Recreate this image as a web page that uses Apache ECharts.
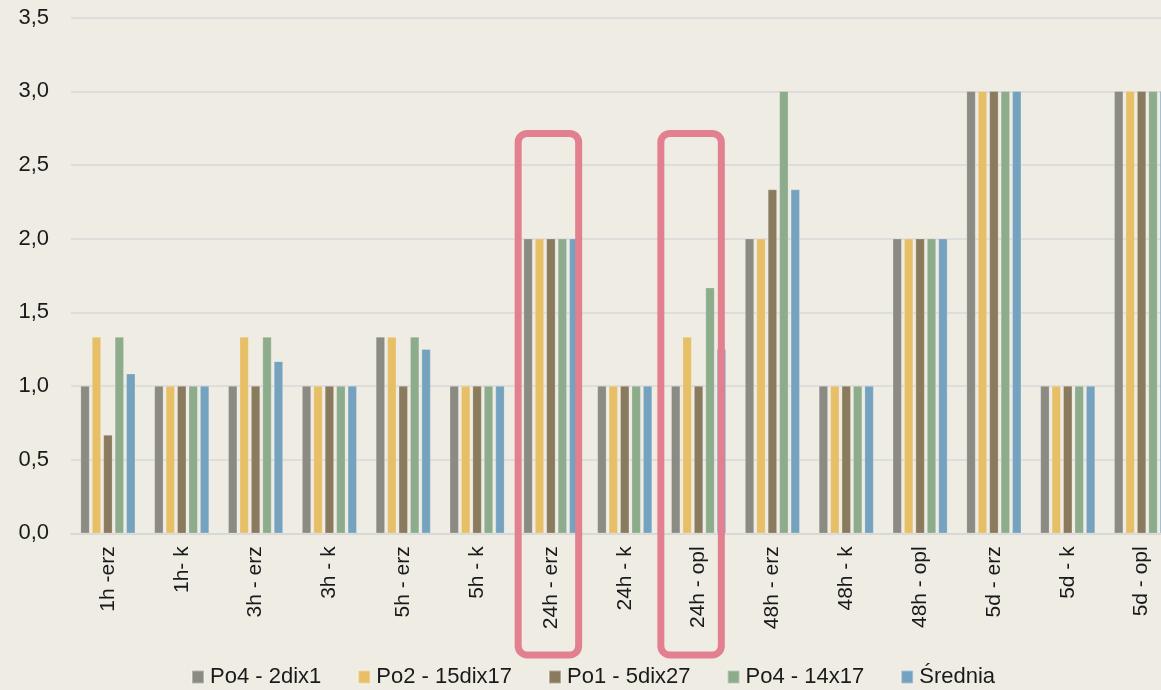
<!DOCTYPE html>
<html><head><meta charset="utf-8">
<script src="https://cdn.jsdelivr.net/npm/echarts@6/dist/echarts.min.js"></script>
<style>html,body{margin:0;padding:0;background:#efece4;overflow:hidden;width:1161px;height:690px;}#c{width:1200px;height:690px;}</style>
</head><body><div id="c"></div>
<script>
const categories = ['1h -erz','1h- k','3h - erz','3h - k','5h - erz','5h - k','24h - erz','24h - k','24h - opl','48h - erz','48h - k','48h - opl','5d - erz','5d - k','5d - opl'];
const seriesNames = ['Po4 - 2dix1','Po2 - 15dix17','Po1 - 5dix27','Po4 - 14x17','Średnia'];
const po4_2dix1  = [1, 1, 1, 1, 1.333, 1, 2, 1, 1, 2, 1, 2, 3, 1, 3];
const po2_15dix17 = [1.333, 1, 1.333, 1, 1.333, 1, 2, 1, 1.333, 2, 1, 2, 3, 1, 3];
const po1_5dix27 = [0.667, 1, 1, 1, 1, 1, 2, 1, 1, 2.333, 1, 2, 3, 1, 3];
const po4_14x17  = [1.333, 1, 1.333, 1, 1.333, 1, 2, 1, 1.667, 3, 1, 2, 3, 1, 3];
const srednia    = [1.083, 1, 1.167, 1, 1.25, 1, 2, 1, 1.25, 2.333, 1, 2, 3, 1, 3];
const yTicks = [0, 0.5, 1, 1.5, 2, 2.5, 3, 3.5];
const highlighted = ['24h - erz', '24h - opl'];

const colors = ['#8b8b83','#e6bf67','#8a7a5e','#8dac8c','#75a3bf'];
const allData = [po4_2dix1, po2_15dix17, po1_5dix27, po4_14x17, srednia];

const chart = echarts.init(document.getElementById('c'));
const font = '"Liberation Sans", Arial, sans-serif';
chart.setOption({
  backgroundColor: '#efece4',
  animation: false,
  color: colors,
  grid: { left: 71, top: 17.6, width: 1107.5, bottom: 156.7, containLabel: false },
  legend: {
    top: 666, left: 191, padding: 0, itemWidth: 12, itemHeight: 13, itemGap: 36,
    icon: 'rect',
    textStyle: { fontFamily: font, fontSize: 22, color: '#1a1a1a', padding: [0, 0, 0, 1] },
    data: seriesNames
  },
  xAxis: {
    type: 'category', data: categories,
    axisLine: { lineStyle: { color: '#d6d6d6', width: 1.5 } },
    axisTick: { show: false },
    axisLabel: { rotate: 90, fontSize: 21, color: '#1a1a1a', fontFamily: font, margin: 13, interval: 0 }
  },
  yAxis: {
    type: 'value', min: 0, max: 3.5, interval: 0.5,
    axisLine: { show: false }, axisTick: { show: false },
    splitLine: { lineStyle: { color: '#d9d9d9', width: 1.5 } },
    axisLabel: {
      fontSize: 22, color: '#1a1a1a', fontFamily: font, margin: 22,
      formatter: v => yTicks.includes(v) ? v.toFixed(1).replace('.', ',') : ''
    }
  },
  series: allData.map((d, i) => ({
    name: seriesNames[i], type: 'bar', data: d,
    barWidth: 9, barGap: '27%',
    itemStyle: { color: colors[i], borderColor: 'rgba(255,255,255,0.35)', borderWidth: 0.6 }
  }))
});

function drawBoxes() {
  const shifts = [-2.5, -7.5];
  const elems = highlighted.map((cat, k) => {
    const cx = chart.convertToPixel({ xAxisIndex: 0 }, cat) + shifts[k];
    const topY = chart.convertToPixel({ yAxisIndex: 0 }, 2.714);
    const w = 60.5, bottomY = 655;
    return {
      type: 'rect', z: 100,
      shape: { x: cx - w / 2, y: topY, width: w, height: bottomY - topY, r: 9 },
      style: { fill: 'none', stroke: '#e2808f', lineWidth: 7 }
    };
  });
  chart.setOption({ graphic: elems });
}
drawBoxes();
</script></body></html>
